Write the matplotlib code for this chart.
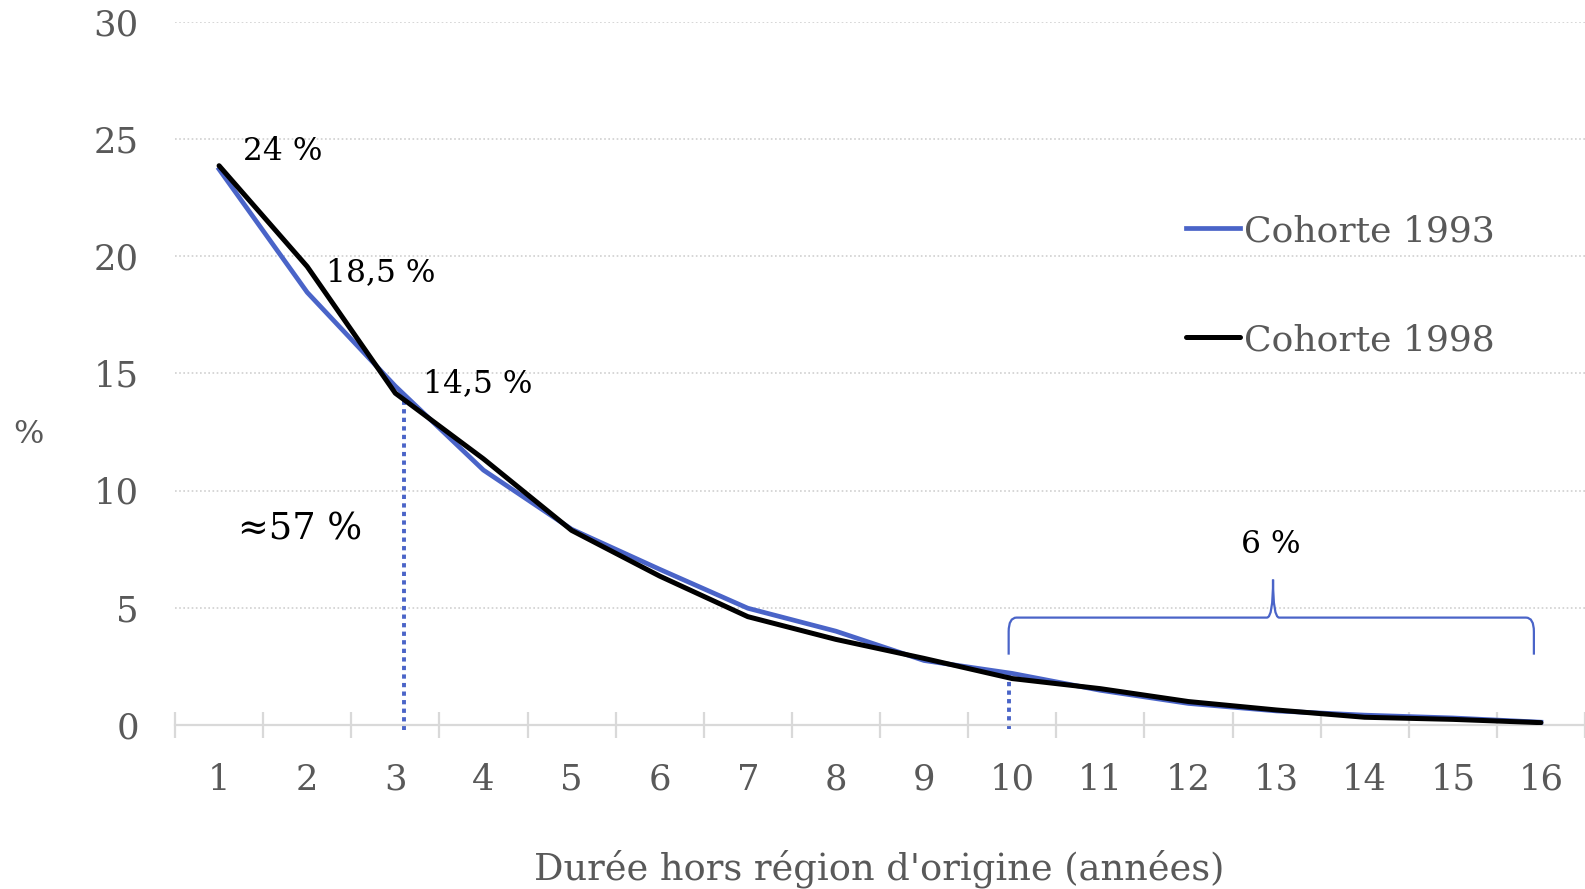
import matplotlib
matplotlib.use("Agg")
import matplotlib.pyplot as plt
from matplotlib.path import Path
from matplotlib.patches import PathPatch

plt.rcParams['font.family'] = ['DejaVu Serif']

years = list(range(1, 17))
cohort_1993 = [23.7, 18.45, 14.45, 10.87, 8.35, 6.64, 4.98, 4.0, 2.75, 2.2, 1.48, 0.92, 0.6, 0.42, 0.3, 0.12]
cohort_1998 = [23.85, 19.55, 14.15, 11.35, 8.3, 6.35, 4.62, 3.65, 2.84, 1.98, 1.55, 1.0, 0.64, 0.33, 0.24, 0.1]
series_labels = ["Cohorte 1993", "Cohorte 1998"]
y_ticks = [0, 5, 10, 15, 20, 25, 30]
x_label = "Durée hors région d'origine (années)"
y_label = "%"

BLUE = "#4A64C8"
GRAY_TXT = "#595959"
GRID = "#D0D0D0"
AXIS = "#D9D9D9"

W, H = 1585, 889
fig = plt.figure(figsize=(W / 100, H / 100), dpi=100)
ax = fig.add_axes([175 / W, (H - 725) / H, 1 - 175 / W, (725 - 21.5) / H])
ax.set_xlim(0.5, 16.5)
ax.set_ylim(0, 30)

# grid
ax.set_yticks(y_ticks)
for v in y_ticks[1:]:
    ax.axhline(v, color=GRID, lw=1.2, ls=(0, (1, 1.5)), zorder=0)

for s in ['left', 'top', 'right']:
    ax.spines[s].set_visible(False)
ax.spines['bottom'].set_color(AXIS)
ax.spines['bottom'].set_linewidth(1.6)

ax.set_xticks(years)
ax.set_xticklabels([str(y) for y in years])
ax.set_xticks([i + 0.5 for i in range(0, 17)], minor=True)
ax.tick_params(axis='x', which='major', length=0, pad=27, labelsize=25.5, labelcolor=GRAY_TXT)
ax.tick_params(axis='x', which='minor', direction='inout', length=19, width=1.6, color=AXIS)
ax.tick_params(axis='y', which='major', length=0, pad=26, labelsize=25.5, labelcolor=GRAY_TXT)

ax.plot(years, cohort_1993, color=BLUE, lw=3.4, solid_joinstyle='round', label=series_labels[0], zorder=3)
ax.plot(years, cohort_1998, color='black', lw=3.6, solid_joinstyle='round', solid_capstyle='round',
        label=series_labels[1], zorder=4)

# dotted verticals
dot = (0, (1.1, 1.1))
ax.plot([3.1, 3.1], [-0.2, 14.0], color=BLUE, lw=2.8, ls=dot, dash_capstyle='butt', clip_on=False, zorder=2)
ax.plot([9.96, 9.96], [-0.15, 2.25], color=BLUE, lw=2.8, ls=dot, dash_capstyle='butt', clip_on=False, zorder=2)

# bracket
xl, xr, xm = 9.96, 15.92, 12.96
yb, yh, yp = 3.0, 4.58, 6.2
dx, dy, dxm = 0.09, 0.6, 0.07
verts = [(xl, yb), (xl, yh - dy), (xl, yh), (xl + dx, yh), (xm - dxm, yh),
         (xm, yh), (xm, yp), (xm, yh), (xm + dxm, yh), (xr - dx, yh),
         (xr, yh), (xr, yh - dy), (xr, yb)]
codes = [Path.MOVETO, Path.LINETO, Path.CURVE3, Path.CURVE3, Path.LINETO,
         Path.CURVE3, Path.CURVE3, Path.CURVE3, Path.CURVE3, Path.LINETO,
         Path.CURVE3, Path.CURVE3, Path.LINETO]
ax.add_patch(PathPatch(Path(verts, codes), fill=False, edgecolor=BLUE, lw=1.6, zorder=2))

# annotations
ax.text(1.27, 24.45, "24 %", fontsize=22.5, ha='left', va='center', color='black')
ax.text(2.21, 19.3, "18,5 %", fontsize=22.5, ha='left', va='center', color='black')
ax.text(3.31, 14.57, "14,5 %", fontsize=22.5, ha='left', va='center', color='black')
ax.text(1.92, 8.35, "≈57 %", fontsize=26.5, ha='center', va='center', color='black')
ax.text(12.94, 7.7, "6 %", fontsize=22.5, ha='center', va='center', color='black')

# legend
leg = ax.legend(loc='upper left', bbox_to_anchor=(1186 / W, 1 - 214 / H), bbox_transform=fig.transFigure,
                frameon=False, fontsize=26, handlelength=1.5, handletextpad=0.1, labelspacing=2.08,
                borderpad=0, borderaxespad=0)
for t in leg.get_texts():
    t.set_color(GRAY_TXT)

fig.text(28.3 / W, 1 - 434.7 / H, y_label, fontsize=23, color=GRAY_TXT, ha='center', va='center')
fig.text(879 / W, 1 - 869 / H, x_label, fontsize=26.5, color=GRAY_TXT, ha='center', va='center')

fig.savefig("out.png", dpi=100)
